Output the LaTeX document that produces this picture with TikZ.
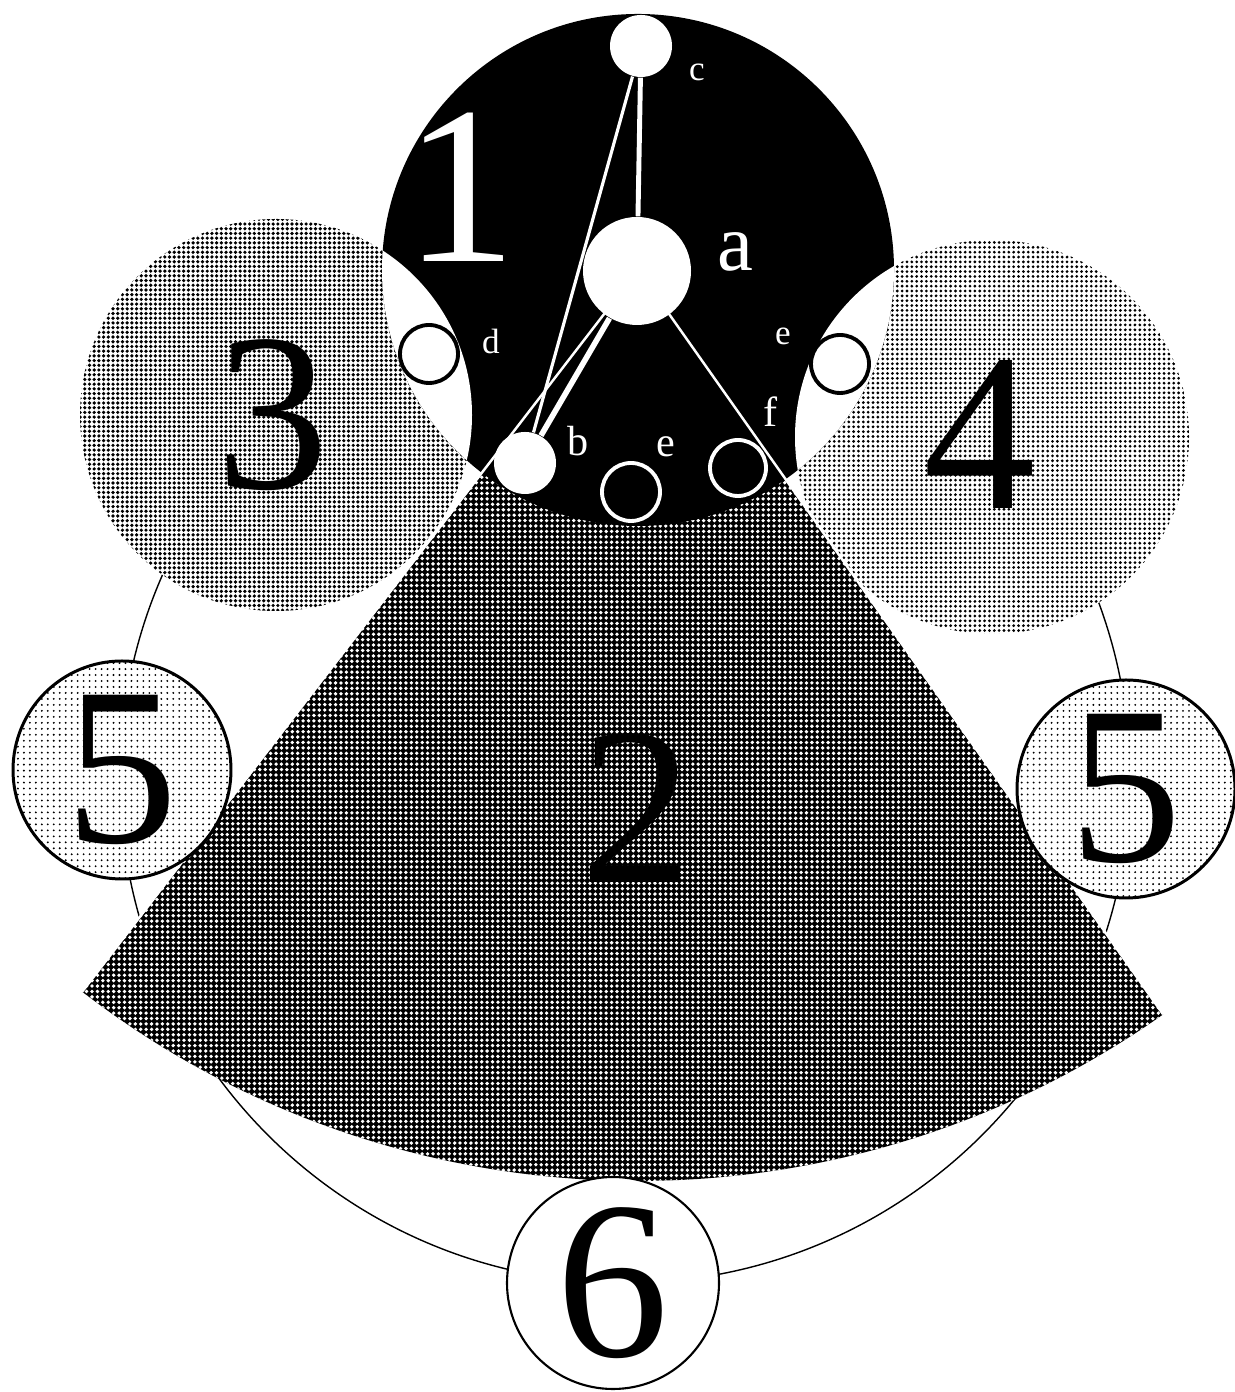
\documentclass[tikz,border=0pt]{standalone}
\usepackage{fontspec}
\setmainfont{Liberation Serif}
\usetikzlibrary{patterns.meta, positioning}

\begin{document}
\begin{tikzpicture}[
    bignum/.style={font=\fontsize{64}{64}\selectfont, inner sep=0pt},
    lbl/.style={font=\fontsize{10}{10}\selectfont, text=white, inner sep=0pt},
    lblbig/.style={font=\fontsize{12}{12}\selectfont, text=white, inner sep=0pt},
    whitedot/.style={circle, fill=white, inner sep=0pt},
    hollowdot/.style={circle, draw=white, line width=1.1pt, inner sep=0pt,
                      minimum size=0.58cm},
    lensdot/.style={circle, draw=black, fill=white, line width=1.1pt,
                    inner sep=0pt, minimum size=0.58cm},
    numdisc/.style={circle, draw, line width=0.85pt, minimum size=2.18cm,
                    inner sep=0pt, preaction={fill=white},
                    pattern={Dots[distance=1.7pt, radius=0.3pt]},
                    font=\fontsize{64}{64}\selectfont},
    whiteline/.style={draw=white}
  ]
  \useasboundingbox (0,0) rectangle (12.34,13.92);

  \coordinate (O) at (6.38,11.22);
  \coordinate (C3) at (2.76,9.77);
  \coordinate (C4) at (9.92,9.55);

  % big ring behind everything
  \draw[line width=0.4pt] (6.25,6.14) circle (5.05);

  % side discs 3 and 4
  \fill[preaction={fill=white}, pattern={Dots[distance=1.34pt, radius=0.52pt]}]
    (C3) circle (1.96);
  \fill[preaction={fill=white}, pattern={Dots[distance=1.38pt, radius=0.44pt]}]
    (C4) circle (1.97);

  % sector 2
  \path (O) ++(232.4:9.11) coordinate (sL);
  \path (O) ++(305.2:9.11) coordinate (sR);
  \fill[preaction={fill=black}, pattern={Dots[distance=1.54pt, radius=0.54pt]},
        pattern color=white]
    (O) -- (sL) arc[start angle=232.4, end angle=305.2, radius=9.11] -- cycle;

  % disc 1 with white lenses
  \fill[black] (O) circle (2.56);
  \begin{scope}
    \clip (O) circle (2.56);
    \fill[white] (C3) circle (1.96) (C4) circle (1.97);
  \end{scope}

  % sector edges
  \draw[whiteline, line width=0.7pt] (sL) -- (O) -- (sR);

  % dots
  \node[whitedot, minimum size=1.08cm] (a) at (6.37,11.21) {};
  \node[whitedot, minimum size=0.62cm] (c) at (6.41,13.46) {};
  \node[whitedot, minimum size=0.62cm] (b) at (5.25,9.29) {};
  \node[hollowdot] (re2) at (6.31,9.00) {};
  \node[hollowdot, minimum size=0.56cm] (rf) at (7.38,9.24) {};
  \node[lensdot] (rd) at (4.29,10.38) {};
  \node[lensdot] (re1) at (8.40,10.28) {};

  \draw[whiteline, line width=1.4pt] (a) -- (c);
  \draw[whiteline, line width=0.9pt] (c) -- (b);
  \draw[whiteline, line width=1.6pt] (a) -- (b);

  % letters
  \node[font=\fontsize{23}{23}\selectfont, text=white, inner sep=0pt]
    (la) at (7.35,11.40) {a};
  \node[lbl] (lc) at (6.97,13.20) {c};
  \node[lbl] (ld) at (4.91,10.51) {d};
  \node[lbl] (le1) at (7.83,10.56) {e};
  \node[lblbig] (lf) at (7.71,9.80) {f};
  \node[lblbig] (lb) at (5.78,9.51) {b};
  \node[lblbig] (le2) at (6.66,9.45) {e};

  % numbers
  \node[bignum, text=white] (n1) at (4.61,12.05) {1};
  \node[bignum] (n2) at (6.37,5.84) {2};
  \node[bignum] (n3) at (2.73,9.77) {3};
  \node[bignum] (n4) at (9.80,9.58) {4};
  \node[numdisc] (n5l) at (1.22,6.22) {5};
  \node[numdisc] (n5r) at (11.26,6.03) {5};
  \node[circle, draw, line width=0.6pt, fill=white, minimum size=2.12cm,
        inner sep=0pt] (n6) at (6.13,1.09) {};
  \node[bignum] (t6) at (n6.center) {6};
\end{tikzpicture}
\end{document}
